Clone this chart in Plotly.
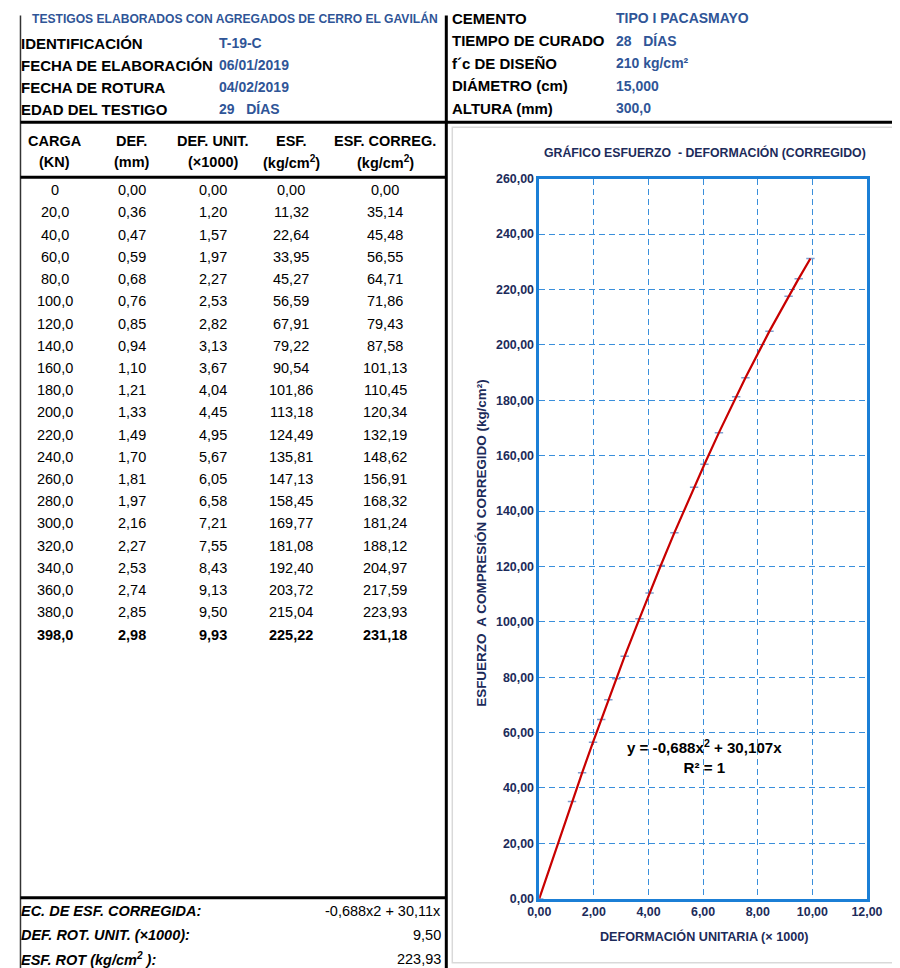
import plotly.graph_objects as go

# ---- datos del ensayo ----
carga = [0, 20.0, 40.0, 60.0, 80.0, 100.0, 120.0, 140.0, 160.0, 180.0, 200.0,
         220.0, 240.0, 260.0, 280.0, 300.0, 320.0, 340.0, 360.0, 380.0, 398.0]
deform = [0.00, 0.36, 0.47, 0.59, 0.68, 0.76, 0.85, 0.94, 1.10, 1.21, 1.33,
          1.49, 1.70, 1.81, 1.97, 2.16, 2.27, 2.53, 2.74, 2.85, 2.98]
def_unit = [0.00, 1.20, 1.57, 1.97, 2.27, 2.53, 2.82, 3.13, 3.67, 4.04, 4.45,
            4.95, 5.67, 6.05, 6.58, 7.21, 7.55, 8.43, 9.13, 9.50, 9.93]
esf = [0.00, 11.32, 22.64, 33.95, 45.27, 56.59, 67.91, 79.22, 90.54, 101.86, 113.18,
       124.49, 135.81, 147.13, 158.45, 169.77, 181.08, 192.40, 203.72, 215.04, 225.22]
esf_correg = [0.00, 35.14, 45.48, 56.55, 64.71, 71.86, 79.43, 87.58, 101.13, 110.45, 120.34,
              132.19, 148.62, 156.91, 168.32, 181.24, 188.12, 204.97, 217.59, 223.93, 231.18]

cab_izq = [("IDENTIFICACIÓN", "T-19-C"),
           ("FECHA DE ELABORACIÓN", "06/01/2019"),
           ("FECHA DE ROTURA", "04/02/2019"),
           ("EDAD DEL TESTIGO", "29   DÍAS")]
cab_der = [("CEMENTO", "TIPO I PACASMAYO"),
           ("TIEMPO DE CURADO", "28   DÍAS"),
           ("f´c DE DISEÑO", "210 kg/cm²"),
           ("DIÁMETRO (cm)", "15,000"),
           ("ALTURA (mm)", "300,0")]
col_titulos = [("CARGA", "(KN)"), ("DEF.", "(mm)"), ("DEF. UNIT.", "(×1000)"),
               ("ESF.", "(kg/cm<sup>2</sup>)"), ("ESF. CORREG.", "(kg/cm<sup>2</sup>)")]
pie = [("EC. DE ESF. CORREGIDA:", "-0,688x2 + 30,11x"),
       ("DEF. ROT. UNIT. (×1000):", "9,50"),
       ("ESF. ROT (kg/cm<sup>2</sup> ):", "223,93")]

W, H = 910, 980
FONT = "Liberation Sans, Arial, sans-serif"
AZUL = "#2F5597"
NAVY = "#1C2B5A"
GRID = "#3A8FDB"
MARCO = "#1B7FD6"
FS = 1.035  # ajuste de tamano de letra


# posiciones medidas en la imagen -> fraccion del papel
def X(px):
    return ((px - 12.6) / 0.970 - 8) / W


def Y(py):
    return 1 - ((py - 6) / 0.985 - 8) / H


def num(v, d=2):
    return ("%.*f" % (d, v)).replace(".", ",")


anots = []


def txt(x, y, s, size=14, color="black", bold=False, italic=False, anchor="left"):
    if bold:
        s = "<b>" + s + "</b>"
    if italic:
        s = "<i>" + s + "</i>"
    anots.append(dict(x=X(x), y=Y(y), xref="paper", yref="paper", text=s,
                      showarrow=False, xanchor=anchor, yanchor="middle",
                      font=dict(family=FONT, size=size * FS, color=color)))


# encabezado
txt(236, 17, "TESTIGOS ELABORADOS CON AGREGADOS DE CERRO EL GAVILÁN", 11.7, AZUL, True, anchor="center")
for i, (lab, val) in enumerate(cab_izq):
    yy = 42 + 22 * i
    txt(19, yy, lab, 14.5, "black", True)
    txt(218, yy, val, 13.5, AZUL, True)
for i, (lab, val) in enumerate(cab_der):
    yy = 17 + 22.5 * i
    txt(451, yy, lab, 14.5, "black", True)
    txt(615, yy, val, 13.5, AZUL, True)

# tabla
col_x = [55, 132, 214, 292, 386]
for cx, (t1, t2) in zip(col_x, col_titulos):
    txt(cx, 140, t1, 14, "black", True, anchor="center")
    txt(cx, 161, t2, 14, "black", True, anchor="center")

for i in range(len(carga)):
    yy = 189 + 22.2 * i
    ult = i == len(carga) - 1
    vals = ["0" if carga[i] == 0 else num(carga[i], 1), num(deform[i]),
            num(def_unit[i]), num(esf[i]), num(esf_correg[i])]
    for cx, v in zip(col_x, vals):
        txt(cx, yy, v, 14, "black", ult, anchor="center")

for i, (lab, val) in enumerate(pie):
    yy = 909 + 24 * i
    txt(19, yy, lab, 14, "black", True, True)
    txt(444, yy, val, 14, "black", anchor="right")

# textos del grafico
txt(706, 151, "GRÁFICO ESFUERZO  - DEFORMACIÓN (CORREGIDO)", 11.9, NAVY, True, anchor="center")
txt(705, 935, "DEFORMACIÓN UNITARIA (× 1000)", 12.2, NAVY, True, anchor="center")
anots.append(dict(x=X(482), y=Y(541), xref="paper", yref="paper",
                  text="<b>ESFUERZO  A COMPRESIÓN CORREGIDO (kg/cm²)</b>", textangle=-90,
                  showarrow=False, xanchor="center", yanchor="middle",
                  font=dict(family=FONT, size=13 * FS, color=NAVY)))
anots.append(dict(x=6.04, y=51.5, xref="x", yref="y",
                  text="<b>y = -0,688x<sup>2</sup> + 30,107x<br>R² = 1</b>",
                  showarrow=False, xanchor="center", yanchor="middle", align="center",
                  font=dict(family=FONT, size=14.6 * FS, color="black")))


def cx_(v):
    return min(max(v, 0.5 / W), 1 - 0.5 / W)


def cy_(v):
    return min(max(v, 0.5 / H), 1 - 0.5 / H)


# lineas de la hoja
def linea(x0, y0, x1, y1, w=3, c="black"):
    return dict(type="line", xref="paper", yref="paper", x0=cx_(X(x0)), y0=cy_(Y(y0)),
                x1=cx_(X(x1)), y1=cy_(Y(y1)), line=dict(color=c, width=w), layer="below")


shapes = [
    linea(16, 4, 16, 968, 1.5, "#333333"),
    linea(447, 0, 447, 968, 3),
    linea(16, 121, 900, 121, 3),
    linea(16, 176, 447, 176, 3),
    linea(16, 896, 447, 896, 3),
    dict(type="rect", xref="paper", yref="paper", x0=X(453), y0=Y(961), x1=X(899), y1=Y(126),
         line=dict(color="#D9D9D9", width=1.5), layer="below"),
]

fig = go.Figure()
fig.add_trace(go.Scatter(x=def_unit, y=esf_correg, mode="markers",
                         marker=dict(symbol="line-ew", size=6, color="#7F9FD0",
                                     line=dict(color="#7F9FD0", width=1.5)),
                         showlegend=False))
fig.add_trace(go.Scatter(x=def_unit, y=esf_correg, mode="lines",
                         line=dict(color="#C80000", width=2.2), showlegend=False))

eje = dict(showline=True, mirror=True, linecolor=MARCO, linewidth=2.5,
           showgrid=True, gridcolor=GRID, gridwidth=1.4, griddash="6px,4px",
           zeroline=False, ticks="", tickformat=".2f",
           tickfont=dict(family=FONT, size=12 * FS, color=NAVY, weight="bold"))

fig.update_layout(
    width=W, height=H,
    margin=dict(l=0, r=0, t=0, b=0),
    paper_bgcolor="white", plot_bgcolor="white",
    separators=",.",
    xaxis=dict(eje, range=[0, 12], dtick=2, domain=[X(540), X(868)]),
    yaxis=dict(eje, range=[0, 260], dtick=20, domain=[Y(897), Y(177.5)]),
    annotations=anots,
    shapes=shapes,
)

fig.write_html("out.html")
